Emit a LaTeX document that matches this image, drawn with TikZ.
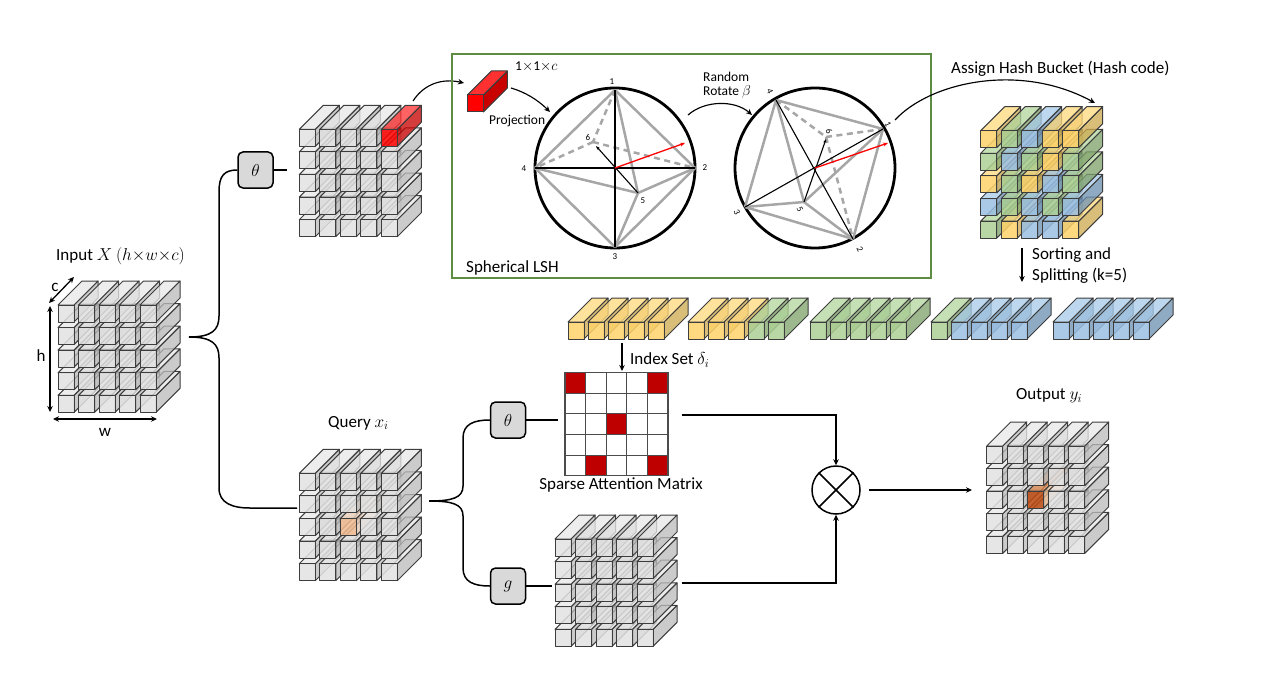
\documentclass[tikz,border=0pt]{standalone}
\usepackage{fontspec}
\setmainfont{Carlito}
\usetikzlibrary{arrows.meta}

\definecolor{frontgrey}{HTML}{E2E2E2}
\definecolor{topgrey}{HTML}{E8E8E8}
\definecolor{sidegrey}{HTML}{BBBBBB}
\definecolor{frontsand}{HTML}{FFD269}
\definecolor{topsand}{HTML}{FFDA7E}
\definecolor{sidesand}{HTML}{CCAA4E}
\definecolor{frontleaf}{HTML}{ACD094}
\definecolor{topleaf}{HTML}{B3D69D}
\definecolor{sideleaf}{HTML}{7EA269}
\definecolor{frontsky}{HTML}{9ABFE2}
\definecolor{topsky}{HTML}{A8CBE9}
\definecolor{sidesky}{HTML}{6C90B2}
\definecolor{frontred}{HTML}{FF0000}
\definecolor{topred}{HTML}{FF3030}
\definecolor{sidered}{HTML}{C80000}
\definecolor{frontpeach}{HTML}{F2BC92}
\definecolor{toppeach}{HTML}{F8DCC6}
\definecolor{sidepeach}{HTML}{E8CDB8}
\definecolor{frontrust}{HTML}{BE4A10}
\definecolor{toprust}{HTML}{E08A50}
\definecolor{siderust}{HTML}{E8B890}
\definecolor{panelgreen}{HTML}{5E8C42}

\tikzset{
  barline/.style={draw=black!76,line width=1pt,fill opacity=\baralpha,line join=round},
  wire/.style={line width=1.5pt},
  wirearrow/.style={line width=1.15pt,-{Stealth[length=6pt,width=5.5pt]}},
  dimarrow/.style={line width=1.3pt,{Stealth[length=6pt,width=5.5pt]}-{Stealth[length=6pt,width=5.5pt]}},
  funcbox/.style={draw,fill=black!15,rounded corners=5pt,line width=1.5pt,minimum width=35pt,minimum height=36pt,inner sep=0pt,font=\fontsize{17}{19}\selectfont},
  sphere/.style={circle,draw,line width=2.8pt,minimum size=160pt,inner sep=0pt},
  edgesolid/.style={draw=black!35,line width=2.5pt},
  edgedash/.style={draw=black!35,line width=2.5pt,dash pattern=on 6pt off 4.5pt},
  axisline/.style={line width=1.1pt},
  redarrow/.style={draw=red,line width=1.3pt,-{Stealth[length=5pt,width=4pt]}},
  caption/.style={font=\fontsize{17}{19}\selectfont,inner sep=0pt},
  smallcaption/.style={font=\fontsize{13.5}{15}\selectfont,inner sep=0pt},
  tick/.style={font=\fontsize{9}{10}\selectfont,inner sep=0pt},
  cell/.style={draw=black!70,line width=1.1pt,minimum size=20.6pt,inner sep=0pt},
}

\def\baralpha{0.76}
\def\facealpha{0.85}
\newcommand{\tensorbar}[3]{%
  \path[barline,fill=side#3] ({#1+16},#2) -- ++(24,-24) -- ++(0,17) -- ++(-24,24) -- cycle;
  \path[barline,fill=top#3] (#1,#2) -- ++(24,-24) -- ++(16,0) -- ++(-24,24) -- cycle;
  \path[barline,fill opacity=\facealpha,fill=front#3] (#1,#2) rectangle ++(16,17);
}
% list runs from the bottom row up, left to right
\newcommand{\tensorcube}[3]{%
  \edef\cubelist{#3}
  \foreach \k [count=\n from 0] in \cubelist {
    \pgfmathsetmacro\barx{#1+20.5*mod(\n,5)}
    \pgfmathsetmacro\bary{#2+22.6*(4-int(\n/5))}
    \tensorbar{\barx}{\bary}{\k}
  }
}
\def\plainrow{grey,grey,grey,grey,grey}

\begin{document}
\begin{tikzpicture}[x=1pt,y=-1pt]
  \useasboundingbox (0,0) rectangle (1281,679);

  % input tensor
  \tensorcube{58}{305}{\plainrow,\plainrow,\plainrow,\plainrow,\plainrow}
  \node[caption,anchor=west] (inputlabel) at (56,256) {Input $X$ $(h{\times}w{\times}c)$};
  \coordinate (cfront) at (49,303);
  \coordinate (cback) at (74,277);
  \draw[dimarrow] (cfront) -- (cback);
  \node[caption] (clabel) at (55,287) {c};
  \coordinate (htop) at (50,306);
  \coordinate (hbot) at (50,412);
  \draw[dimarrow] (htop) -- (hbot);
  \node[caption] (hlabel) at (41,356) {h};
  \coordinate (wleft) at (53,419);
  \coordinate (wright) at (157,419);
  \draw[dimarrow] (wleft) -- (wright);
  \node[caption] (wlabel) at (105,432) {w};

  % theta branch
  \node[funcbox] (thetatop) at (255.5,170) {$\theta$};
  \coordinate (inputtip) at (189,337);
  \coordinate (thetaout) at (287,170);
  \coordinate (queryin) at (297,508);
  \draw[wire] (inputtip) .. controls (212,337) and (219,330) .. (219,316) -- (219,192) .. controls (219,176) and (224,170) .. (thetatop.west);
  \draw[wire] (inputtip) .. controls (212,337) and (219,344) .. (219,358) -- (219,488) .. controls (219,503) and (232,508) .. (250,508) -- (queryin);
  \draw[wire] (thetatop.east) -- (thetaout);
  \tensorcube{299.3}{129.3}{\plainrow,\plainrow,\plainrow,\plainrow,grey,grey,grey,grey,red}

  % projected vector
  \begin{scope}
    \def\baralpha{1}
    \def\facealpha{1}
    \tensorbar{467.3}{95}{red}
  \end{scope}
  \coordinate (redstart) at (413,101);
  \coordinate (redend) at (464,83);
  \draw[wirearrow] (redstart) .. controls (424,84) and (442,78) .. (redend);
  \node[smallcaption,anchor=west] (vectorlabel) at (515,67) {1$\times$1$\times$$c$};
  \node[smallcaption,anchor=west] (projlabel) at (489,121) {Projection};

  % spherical LSH panel
  \draw[draw=panelgreen,line width=1.8pt] (452,54) rectangle (931,278);
  \node[caption,anchor=west] (lshlabel) at (466,268) {Spherical LSH};

  % first sphere
  \node[sphere] (spherea) at (615,168) {};
  \coordinate (a1) at (615,90);
  \coordinate (a2) at (695,168);
  \coordinate (a3) at (615,247);
  \coordinate (a4) at (535,168);
  \coordinate (a5) at (638,193);
  \coordinate (a6) at (593,142);
  \foreach \from/\to in {a1/a2,a1/a4,a1/a5,a2/a3,a2/a5,a3/a4,a3/a5,a4/a5}
    \draw[edgesolid] (\from) -- (\to);
  \foreach \from/\to in {a1/a6,a6/a2,a6/a4}
    \draw[edgedash] (\from) -- (\to);
  \draw[axisline] (a1) -- (a3);
  \draw[axisline] (a4) -- (a2);
  \draw[axisline,-{Stealth[length=4pt,width=3pt]}] (a5) -- (596,146);
  \coordinate (vecatip) at (685,143);
  \draw[redarrow] (spherea.center) -- (vecatip);
  \node[tick] (a1label) at (612,82) {1};
  \node[tick] (a2label) at (705,168) {2};
  \node[tick] (a3label) at (615,257) {3};
  \node[tick] (a4label) at (524,169) {4};
  \node[tick] (a5label) at (643,201) {5};
  \node[tick] (a6label) at (588,137) {6};

  \coordinate (projstart) at (511,88);
  \coordinate (projend) at (550,112);
  \draw[wirearrow] (projstart) .. controls (525,92) and (538,100) .. (projend);

  % rotate step
  \node[smallcaption,anchor=west] (randomlabel) at (703,77) {Random};
  \node[smallcaption,anchor=west] (rotatelabel) at (703,92) {Rotate $\beta$};
  \coordinate (rotstart) at (688,115);
  \coordinate (rotend) at (752,115);
  \draw[wirearrow] (rotstart) .. controls (705,100) and (735,100) .. (rotend);

  % second sphere
  \node[sphere] (sphereb) at (815,168) {};
  \coordinate (b1) at (883,129);
  \coordinate (b2) at (853,239);
  \coordinate (b3) at (745,207);
  \coordinate (b4) at (776,100);
  \coordinate (b5) at (804,202);
  \coordinate (b6) at (826,137);
  \foreach \from/\to in {b4/b1,b4/b3,b4/b5,b1/b5,b1/b2,b3/b5,b3/b2,b5/b2}
    \draw[edgesolid] (\from) -- (\to);
  \foreach \from/\to in {b4/b6,b6/b1,b6/b2}
    \draw[edgedash] (\from) -- (\to);
  \draw[axisline] (b1) -- (b3);
  \draw[axisline] (b4) -- (b2);
  \draw[axisline,-{Stealth[length=4pt,width=3pt]}] (b5) -- (826,139);
  \coordinate (vecbtip) at (888,143);
  \draw[redarrow] (sphereb.center) -- (vecbtip);
  \node[tick,rotate=-65] (b1label) at (888,124) {1};
  \node[tick,rotate=-65] (b2label) at (860,249) {2};
  \node[tick,rotate=-65] (b3label) at (737,212) {3};
  \node[tick,rotate=-65] (b4label) at (770,91) {4};
  \node[tick,rotate=-65] (b5label) at (800,209) {5};
  \node[tick,rotate=-65] (b6label) at (829,131) {6};

  % hash buckets
  \node[caption,anchor=west] (assignlabel) at (951,69) {Assign Hash Bucket (Hash code)};
  \coordinate (hashstart) at (895,120);
  \coordinate (hashend) at (1095,103);
  \draw[wirearrow] (hashstart) .. controls (930,82) and (1020,62) .. (hashend);
  \tensorcube{980.7}{130.7}{leaf,sand,sky,sky,sand,sky,leaf,sky,leaf,sky,sand,leaf,sand,sky,leaf,leaf,sky,leaf,sand,leaf,sand,leaf,sky,sand,sand}

  \coordinate (sortstart) at (1022,248);
  \coordinate (sortend) at (1022,282);
  \draw[wirearrow] (sortstart) -- (sortend);
  \node[caption,anchor=west] (sortlabel) at (1032,255) {Sorting and};
  \node[caption,anchor=west] (splitlabel) at (1032,276) {Splitting (k=5)};

  % sorted groups
  \foreach \stripx/\k in {568/sand,588/sand,608/sand,628/sand,648/sand,
                        688/sand,708/sand,728/sand,748/leaf,768/leaf,
                        810/leaf,830/leaf,850/leaf,870/leaf,890/leaf,
                        931/leaf,951/sky,971/sky,991/sky,1011/sky,
                        1053/sky,1073/sky,1093/sky,1113/sky,1133/sky} {
    \tensorbar{\stripx}{322}{\k}
  }

  \coordinate (indexstart) at (622,343);
  \coordinate (indexend) at (622,371);
  \draw[wirearrow] (indexstart) -- (indexend);
  \node[caption,anchor=west] (indexlabel) at (630,360) {Index Set $\delta_i$};

  % sparse matrix
  \foreach \r in {0,...,4}
    \foreach \c in {0,...,4}
      \node[cell] (cell\r\c) at ({575.3+20.6*\c},{383+20.6*\r}) {};
  \foreach \r/\c in {0/0,0/4,2/2,4/1,4/4}
    \node[cell,fill=red!75!black] at (cell\r\c) {};
  \node[caption] (matrixlabel) at (621,485) {Sparse Attention Matrix};

  % query tensor
  \node[caption,anchor=west] (querylabel) at (328,423) {Query $x_i$};
  \tensorcube{299.3}{473.3}{\plainrow,\plainrow,grey,grey,peach,grey,grey,\plainrow,\plainrow}

  \node[funcbox] (thetabot) at (508,420) {$\theta$};
  \node[funcbox] (gbox) at (508,586) {$g$};
  \coordinate (querytip) at (429,501);
  \draw[wire] (querytip) .. controls (452,501) and (463,498) .. (463,486) -- (463,438) .. controls (463,424) and (474,420) .. (thetabot.west);
  \draw[wire] (querytip) .. controls (452,501) and (463,504) .. (463,516) -- (463,568) .. controls (463,582) and (474,586) .. (gbox.west);
  \coordinate (thetamatrix) at (558,420);
  \coordinate (ginput) at (552,586);
  \draw[wire] (thetabot.east) -- (thetamatrix);
  \draw[wire] (gbox.east) -- (ginput);

  % g tensor
  \tensorcube{555}{539}{\plainrow,\plainrow,\plainrow,\plainrow,\plainrow}

  % product
  \node[circle,draw,line width=1.5pt,minimum size=48pt,inner sep=0pt] (product) at (836,490) {};
  \draw[line width=1.5pt] (product.north west) -- (product.south east);
  \draw[line width=1.5pt] (product.north east) -- (product.south west);
  \coordinate (matrixout) at (682,415);
  \coordinate (gout) at (682,583);
  \coordinate (productout) at (869,490);
  \coordinate (outputin) at (972,490);
  \draw[wirearrow] (matrixout) -| (product.north);
  \draw[wirearrow] (gout) -| (product.south);
  \draw[wirearrow] (productout) -- (outputin);

  % output tensor
  \node[caption,anchor=west] (outputlabel) at (1016,396) {Output $y_i$};
  \tensorcube{986.7}{446}{\plainrow,\plainrow,grey,grey,rust,grey,grey,\plainrow,\plainrow}
\end{tikzpicture}
\end{document}
